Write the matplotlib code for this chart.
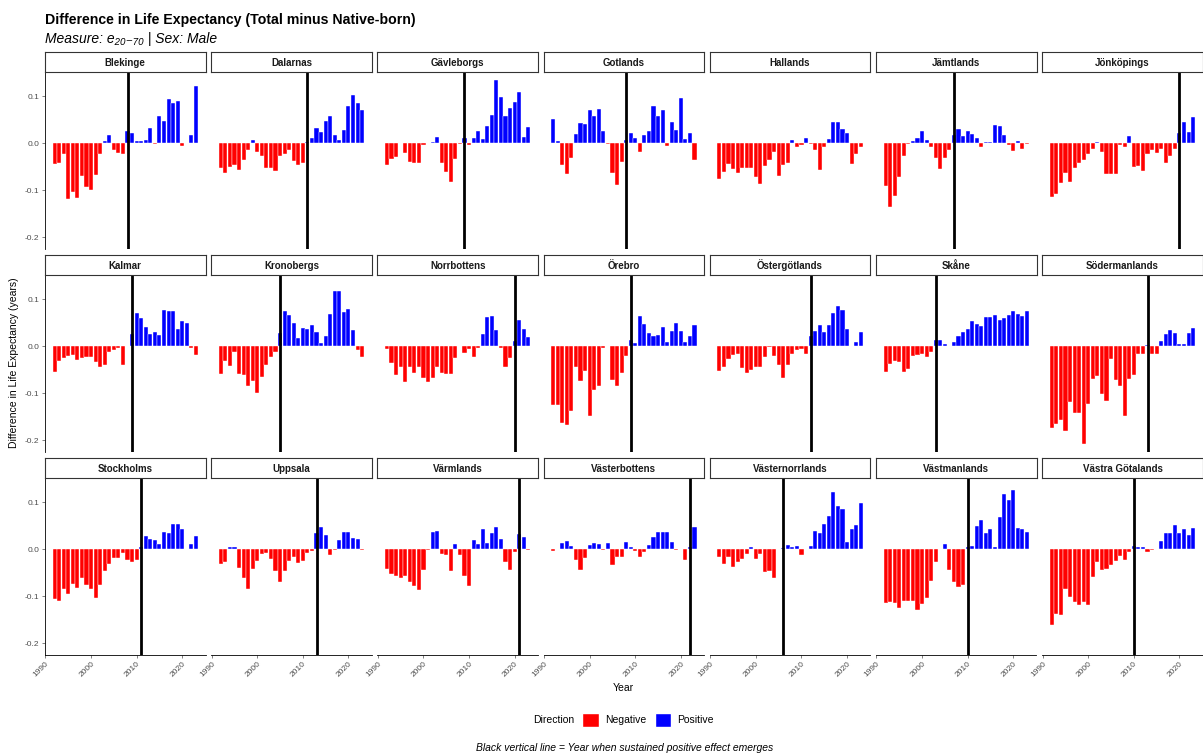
import numpy as np
import matplotlib
matplotlib.use("Agg")
import matplotlib.pyplot as plt
from matplotlib.patches import Patch

plt.rcParams['font.family'] = ['Liberation Sans', 'DejaVu Sans']

years = list(range(1992, 2024))

counties = ["Blekinge", "Dalarnas", "Gävleborgs", "Gotlands", "Hallands", "Jämtlands", "Jönköpings",
            "Kalmar", "Kronobergs", "Norrbottens", "Örebro", "Östergötlands", "Skåne", "Södermanlands",
            "Stockholms", "Uppsala", "Värmlands", "Västerbottens", "Västernorrlands", "Västmanlands",
            "Västra Götalands"]

# year when sustained positive effect emerges (None = never)
break_years = [2008, 2011, 2009, 2008, None, 2007, 2020,
               2009, 2005, 2020, 2009, 2012, 2003, 2013,
               2011, 2013, 2021, 2022, 2006, 2010, 2010]

blekinge = [-0.044, -0.041, -0.023, -0.118, -0.104, -0.116, -0.070, -0.094, -0.099, -0.068, -0.022, 0.005,
            0.018, -0.014, -0.020, -0.022, 0.026, 0.022, 0.004, 0.005, 0.007, 0.032, -0.002, 0.058,
            0.048, 0.095, 0.087, 0.091, -0.006, 0.001, 0.018, 0.122]
dalarnas = [-0.053, -0.063, -0.051, -0.046, -0.056, -0.035, -0.015, 0.007, -0.018, -0.027, -0.053, -0.053,
            -0.059, -0.027, -0.023, -0.014, -0.037, -0.046, -0.041, 0.002, 0.011, 0.032, 0.024, 0.048,
            0.059, 0.017, 0.007, 0.029, 0.080, 0.104, 0.087, 0.072]
gavleborgs = [-0.046, -0.034, -0.030, 0.000, -0.020, -0.039, -0.042, -0.041, -0.004, 0.000, 0.003, 0.013,
              -0.042, -0.062, -0.082, -0.034, -0.002, 0.011, -0.003, 0.011, 0.027, 0.010, 0.037, 0.060,
              0.135, 0.099, 0.059, 0.075, 0.088, 0.109, 0.014, 0.035]
gotlands = [0.051, 0.004, -0.046, -0.065, -0.032, 0.020, 0.044, 0.042, 0.070, 0.058, 0.074, 0.026,
            -0.001, -0.063, -0.088, -0.040, 0.008, 0.021, 0.011, -0.018, 0.018, 0.026, 0.080, 0.059,
            0.070, -0.006, 0.045, 0.028, 0.096, 0.009, 0.021, -0.035]
hallands = [-0.077, -0.061, -0.044, -0.055, -0.063, -0.053, -0.053, -0.053, -0.072, -0.087, -0.048, -0.035,
            -0.018, -0.070, -0.046, -0.041, 0.007, -0.007, -0.004, 0.011, -0.001, -0.014, -0.056, -0.008,
            0.010, 0.045, 0.045, 0.031, 0.021, -0.045, -0.022, -0.007]
jamtlands = [-0.090, -0.136, -0.113, -0.072, -0.027, -0.001, 0.005, 0.011, 0.027, 0.007, -0.008, -0.032,
             -0.055, -0.032, -0.014, 0.017, 0.030, 0.015, 0.027, 0.020, 0.011, -0.007, 0.003, 0.003,
             0.039, 0.037, 0.017, -0.003, -0.017, 0.005, -0.011, -0.001]
jonkopings = [-0.114, -0.107, -0.085, -0.063, -0.082, -0.053, -0.042, -0.035, -0.023, -0.011, 0.003, -0.018,
              -0.066, -0.065, -0.065, -0.003, -0.007, 0.015, -0.051, -0.049, -0.058, -0.023, -0.014, -0.020,
              -0.011, -0.041, -0.027, -0.011, 0.021, 0.045, 0.025, 0.056]
kalmar = [-0.055, -0.031, -0.025, -0.020, -0.019, -0.029, -0.025, -0.023, -0.022, -0.034, -0.044, -0.039,
          -0.012, -0.008, -0.003, -0.039, 0.000, 0.026, 0.072, 0.061, 0.042, 0.027, 0.030, 0.024,
          0.077, 0.075, 0.076, 0.037, 0.055, 0.050, -0.003, -0.018]
kronobergs = [-0.058, -0.032, -0.042, -0.012, -0.058, -0.061, -0.085, -0.073, -0.099, -0.065, -0.039, -0.023,
              -0.012, 0.029, 0.076, 0.067, 0.050, 0.017, 0.040, 0.037, 0.046, 0.030, 0.007, 0.022,
              0.069, 0.117, 0.118, 0.073, 0.080, 0.035, -0.008, -0.022]
norrbottens = [-0.006, -0.036, -0.060, -0.043, -0.075, -0.044, -0.056, -0.045, -0.068, -0.076, -0.068, -0.044,
               -0.056, -0.058, -0.058, -0.025, 0.000, -0.015, -0.005, -0.022, -0.003, 0.027, 0.063, 0.064,
               0.035, -0.003, -0.044, -0.024, 0.011, 0.057, 0.037, 0.019]
orebro = [-0.126, -0.126, -0.163, -0.167, -0.138, -0.044, -0.074, -0.053, -0.149, -0.094, -0.085, -0.003,
          0.000, -0.071, -0.084, -0.057, -0.021, 0.014, 0.007, 0.065, 0.048, 0.029, 0.022, 0.025,
          0.041, 0.010, 0.033, 0.049, 0.033, 0.009, 0.022, 0.046]
ostergotlands = [-0.052, -0.043, -0.028, -0.018, -0.017, -0.047, -0.056, -0.050, -0.043, -0.043, -0.023, -0.001,
                 -0.020, -0.040, -0.067, -0.040, -0.017, -0.007, -0.006, -0.017, 0.023, 0.033, 0.046, 0.031,
                 0.045, 0.072, 0.085, 0.077, 0.036, 0.001, 0.009, 0.031]
skane = [-0.054, -0.037, -0.032, -0.033, -0.054, -0.048, -0.021, -0.018, -0.017, -0.023, -0.011, 0.013,
         0.014, 0.006, 0.000, 0.010, 0.021, 0.030, 0.038, 0.053, 0.048, 0.044, 0.062, 0.062,
         0.066, 0.057, 0.060, 0.066, 0.076, 0.068, 0.065, 0.075]
sodermanlands = [-0.175, -0.166, -0.156, -0.180, -0.118, -0.143, -0.142, -0.209, -0.122, -0.070, -0.063, -0.101,
                 -0.117, -0.028, -0.072, -0.084, -0.149, -0.070, -0.062, -0.016, -0.016, 0.002, -0.016, -0.016,
                 0.011, 0.027, 0.034, 0.028, 0.006, 0.004, 0.028, 0.040]
stockholms = [-0.105, -0.110, -0.084, -0.095, -0.073, -0.082, -0.061, -0.077, -0.084, -0.103, -0.077, -0.047,
              -0.031, -0.018, -0.018, -0.007, -0.022, -0.028, -0.022, 0.004, 0.028, 0.021, 0.020, 0.012,
              0.038, 0.035, 0.053, 0.055, 0.043, 0.000, 0.011, 0.028]
uppsala = [-0.032, -0.028, 0.004, 0.004, -0.040, -0.060, -0.084, -0.041, -0.024, -0.010, -0.008, -0.021,
           -0.047, -0.070, -0.047, -0.024, -0.016, -0.030, -0.025, -0.008, -0.004, 0.035, 0.047, 0.030,
           -0.011, -0.002, 0.020, 0.038, 0.038, 0.025, 0.022, -0.001]
varmlands = [-0.042, -0.053, -0.057, -0.061, -0.057, -0.070, -0.078, -0.087, -0.043, -0.002, 0.038, 0.040,
             -0.009, -0.011, -0.046, 0.012, -0.011, -0.057, -0.078, 0.020, 0.011, 0.043, 0.014, 0.035,
             0.048, 0.021, -0.027, -0.043, -0.006, 0.033, 0.027, -0.002]
vasterbottens = [-0.003, 0.001, 0.013, 0.017, 0.007, -0.023, -0.043, -0.019, 0.009, 0.013, 0.011, -0.001,
                 0.013, -0.033, -0.016, -0.016, 0.016, 0.004, -0.003, -0.017, -0.006, 0.010, 0.027, 0.038,
                 0.038, 0.038, 0.016, -0.002, 0.000, -0.023, 0.006, 0.047]
vasternorrlands = [-0.017, -0.031, -0.016, -0.038, -0.027, -0.021, -0.010, 0.006, -0.021, -0.010, -0.049, -0.046,
                   -0.060, 0.000, 0.002, 0.009, 0.004, 0.007, -0.013, 0.001, 0.008, 0.040, 0.034, 0.054,
                   0.070, 0.122, 0.092, 0.086, 0.016, 0.043, 0.051, 0.098]
vastmanlands = [-0.114, -0.113, -0.114, -0.125, -0.109, -0.109, -0.109, -0.130, -0.116, -0.104, -0.067, -0.027,
                0.000, 0.012, -0.043, -0.069, -0.081, -0.076, 0.004, 0.008, 0.049, 0.062, 0.035, 0.043,
                0.004, 0.069, 0.118, 0.105, 0.127, 0.045, 0.043, 0.038]
vastra_gotalands = [-0.161, -0.138, -0.139, -0.085, -0.101, -0.112, -0.119, -0.113, -0.118, -0.058, -0.027, -0.043,
                    -0.041, -0.034, -0.025, -0.014, -0.022, -0.005, 0.007, 0.006, 0.005, -0.006, -0.002, 0.000,
                    0.018, 0.035, 0.035, 0.052, 0.035, 0.043, 0.030, 0.046]

series = [blekinge, dalarnas, gavleborgs, gotlands, hallands, jamtlands, jonkopings,
          kalmar, kronobergs, norrbottens, orebro, ostergotlands, skane, sodermanlands,
          stockholms, uppsala, varmlands, vasterbottens, vasternorrlands, vastmanlands, vastra_gotalands]

NEG = "#FF0000"
POS = "#0000FF"
GREY = "#4D4D4D"

W, H = 1203, 755
fig = plt.figure(figsize=(W / 100, H / 100), dpi=100)

def px_axes(x0, y0, w, h):
    # pixel box (top-left origin) -> figure axes
    return fig.add_axes([x0 / W, 1 - (y0 + h) / H, w / W, h / H])

pan_w, pan_h, col_step = 160.5, 176.5, 166.2
row_tops = [72, 275, 478]
strip_h = 20

for i, (name, vals, by) in enumerate(zip(counties, series, break_years)):
    r, c = divmod(i, 7)
    x0 = 45 + col_step * c
    y0 = row_tops[r]
    ax = px_axes(x0, y0, pan_w, pan_h)
    vals = np.array(vals)
    cols = np.where(vals < 0, NEG, POS)
    ax.bar(years, vals, width=0.9, color=cols, edgecolor="white", linewidth=0.3)
    if by is not None:
        ax.axvline(by, color="black", linewidth=2.0)
    ax.set_xlim(1989.9, 2025.1)
    ax.set_ylim(-0.224, 0.152)
    for s in ["top", "right"]:
        ax.spines[s].set_visible(False)
    ax.spines["left"].set_visible(c == 0)
    ax.spines["bottom"].set_visible(r == 2)
    ax.spines["left"].set_linewidth(0.6)
    ax.spines["bottom"].set_linewidth(0.6)
    ax.set_yticks([-0.2, -0.1, 0.0, 0.1])
    ax.set_xticks([1990, 2000, 2010, 2020])
    ax.tick_params(length=2.5, width=0.5, color=GREY, labelsize=6, labelcolor=GREY, pad=1.5)
    if c == 0:
        ax.set_yticklabels(["-0.2", "-0.1", "0.0", "0.1"])
    else:
        ax.tick_params(axis="y", left=False, labelleft=False)
    if r == 2:
        ax.set_xticklabels(["1990", "2000", "2010", "2020"], rotation=45, ha="right",
                           rotation_mode="anchor")
    else:
        ax.tick_params(axis="x", bottom=False, labelbottom=False)

    sax = px_axes(x0, y0 - strip_h, pan_w, strip_h)
    sax.set_xticks([])
    sax.set_yticks([])
    for s in sax.spines.values():
        s.set_linewidth(0.8)
        s.set_color("#333333")
    sax.text(0.5, 0.3, name, ha="center", va="baseline", fontsize=7, fontweight="bold",
             color="#1A1A1A", transform=sax.transAxes)

fig.text(45 / W, 1 - 20 / H, "Difference in Life Expectancy (Total minus Native-born)",
         fontsize=10.2, fontweight="bold", ha="left", va="center")
fig.text(45 / W, 1 - 39 / H, "Measure: e₂₀₋₇₀ | Sex: Male", fontsize=10, style="italic",
         ha="left", va="center")

fig.text(14 / W, 1 - 363 / H, "Difference in Life Expectancy (years)", rotation=90,
         fontsize=7.5, ha="center", va="center")
fig.text(623 / W, 1 - 688 / H, "Year", fontsize=7.5, ha="center", va="center")

fig.text(533 / W, 1 - 720 / H, "Direction", fontsize=7.5, ha="left", va="center")
handles = [Patch(facecolor=NEG, edgecolor="white", label="Negative"),
           Patch(facecolor=POS, edgecolor="white", label="Positive")]
fig.legend(handles=handles, loc="center left", bbox_to_anchor=(582 / W, 1 - 720 / H), ncol=2,
           frameon=False, fontsize=7.5, handlelength=1.6, handleheight=1.6, handletextpad=0.6,
           columnspacing=0.8, borderaxespad=0, borderpad=0)

fig.text(625 / W, 1 - 748 / H, "Black vertical line = Year when sustained positive effect emerges",
         fontsize=7.5, style="italic", ha="center", va="center")

fig.savefig("out.png", dpi=100)
